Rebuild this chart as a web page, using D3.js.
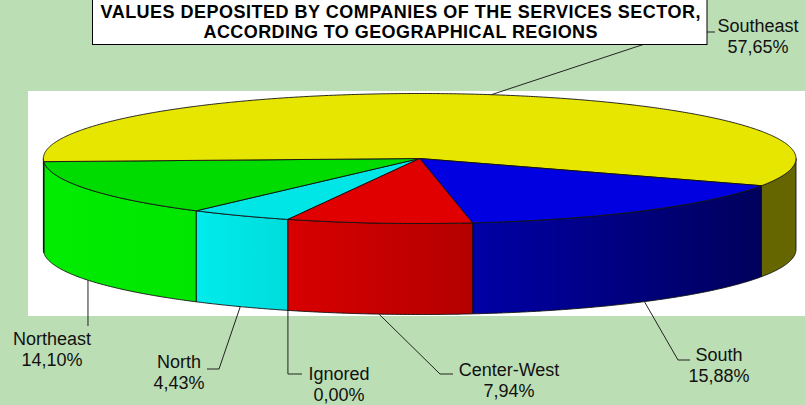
<!DOCTYPE html>
<html>
<head>
<meta charset="utf-8">
<script src="https://cdn.jsdelivr.net/npm/d3@7"></script>
<style>
  html, body { margin: 0; padding: 0; background: #bcdeb4; }
  svg { display: block; }
</style>
</head>
<body>
<svg id="chart" width="805" height="405"></svg>
<script>
// Regions, in the order the slices are laid out clockwise
const regions = ["North", "Northeast", "Southeast", "South", "Center-West", "Ignored"];
// Share of deposited values (%)
const shares = [4.43, 14.10, 57.65, 15.88, 7.94, 0.00];
// Printed value labels (decimal comma)
const shareLabels = ["4,43%", "14,10%", "57,65%", "15,88%", "7,94%", "0,00%"];
const titleLines = [
  "VALUES DEPOSITED BY COMPANIES OF THE SERVICES SECTOR,",
  "ACCORDING TO GEOGRAPHICAL REGIONS"
];

// Slice colours: top face, and left/right shades of the rim
const topColors  = ["#00e6e6", "#00dc00", "#e6e600", "#0000e1", "#e10000", "#e100e1"];
const rimLeft    = ["#00ecec", "#00ec00", "#666600", "#0000a6", "#d80000", "#a000a0"];
const rimRight   = ["#00dcdc", "#00e600", "#666600", "#00005c", "#b40000", "#a000a0"];

const W = 805, H = 405;
const svg = d3.select("#chart");
const defs = svg.append("defs");

// background and white plot area
svg.append("rect").attr("width", W).attr("height", H).attr("fill", "#bcdeb4");
svg.append("rect").attr("x", 28).attr("y", 91).attr("width", W - 28).attr("height", 225).attr("fill", "#ffffff");

// tilted disc geometry
const cx = 419.7, cy = 158.5, rx = 376.3, ry = 65, depth = 91;
const rad = Math.PI / 180;
const startDeg = 110.5; // first slice edge, clockwise from 3 o'clock

const pie = d3.pie().sort(null).value(d => d)
  .startAngle((startDeg + 90) * rad)
  .endAngle((startDeg + 450) * rad);
const arcs = pie(shares);

const toT = a => a - Math.PI / 2;               // d3 angle -> ellipse parameter
const ex = t => cx + rx * Math.cos(t);
const ey = (t, dz = 0) => cy + ry * Math.sin(t) + dz;
function arcPts(t0, t1, dz) {
  const n = Math.max(2, Math.ceil(Math.abs(t1 - t0) / (0.4 * rad)));
  return d3.range(n + 1).map(i => {
    const t = t0 + (t1 - t0) * i / n;
    return [ex(t), ey(t, dz)];
  });
}
const line = d3.line();

// ---- rim (front half only) ----
const rimG = svg.append("g");
arcs.forEach((a, i) => {
  if (a.value <= 0) return;
  const t0 = toT(a.startAngle), t1 = toT(a.endAngle);
  [-2 * Math.PI, 0, 2 * Math.PI, 4 * Math.PI].forEach((base, k) => {
    const lo = Math.max(t0, base), hi = Math.min(t1, base + Math.PI);
    if (hi - lo <= 1e-6) return;
    const id = `rim-${i}-${k}`;
    const g = defs.append("linearGradient").attr("id", id)
      .attr("gradientUnits", "userSpaceOnUse")
      .attr("x1", ex(hi)).attr("y1", 0).attr("x2", ex(lo)).attr("y2", 0);
    g.append("stop").attr("offset", 0).attr("stop-color", rimLeft[i]);
    g.append("stop").attr("offset", 1).attr("stop-color", rimRight[i]);
    const pts = arcPts(lo, hi, 0).concat(arcPts(hi, lo, depth));
    rimG.append("path")
      .attr("d", line(pts) + "Z")
      .attr("fill", `url(#${id})`)
      .attr("stroke", "#111").attr("stroke-width", 0.9)
      .attr("stroke-linejoin", "round");
  });
});

// ---- top faces ----
const topG = svg.append("g");
arcs.forEach((a, i) => {
  if (a.value <= 0) return;
  const pts = [[cx, cy]].concat(arcPts(toT(a.startAngle), toT(a.endAngle), 0));
  topG.append("path")
    .attr("d", line(pts) + "Z")
    .attr("fill", topColors[i])
    .attr("stroke", "#111").attr("stroke-width", 0.9)
    .attr("stroke-linejoin", "round");
});

// ---- data labels with leader lines ----
const labelPlace = {
  "North":       { x: 179, y: 368, route: p => [p, [219, 369], [207, 369]] },
  "Northeast":   { x: 52,  y: 345, route: p => [p, [p[0], 326]] },
  "Southeast":   { x: 758, y: 32,  route: p => [p, [681, 32], [715, 32]] },
  "South":       { x: 719, y: 361, route: p => [p, [678, 360], [690, 360]] },
  "Center-West": { x: 509, y: 376, route: p => [p, [440, 374], [453, 374]] },
  "Ignored":     { x: 339, y: 380, route: p => [p, [p[0], 374], [302, 374]] }
};

const leaderG = svg.append("g");
const labelG = svg.append("g")
  .attr("font-family", "'Liberation Sans', Arial, sans-serif")
  .attr("font-size", 18).attr("fill", "#111").attr("text-anchor", "middle");

arcs.forEach((a, i) => {
  const name = regions[i];
  const place = labelPlace[name];
  const tm = toT((a.startAngle + a.endAngle) / 2);
  const back = Math.sin(tm) < 0;
  const anchor = [ex(tm), ey(tm, back ? 0 : depth)];
  leaderG.append("path")
    .attr("d", line(place.route(anchor)))
    .attr("fill", "none").attr("stroke", "#222").attr("stroke-width", 1);
  const t = labelG.append("text").attr("x", place.x).attr("y", place.y);
  t.append("tspan").attr("x", place.x).text(name);
  t.append("tspan").attr("x", place.x).attr("dy", 21).text(shareLabels[i]);
});

// ---- title box ----
const titleG = svg.append("g");
titleG.append("rect")
  .attr("x", 92.5).attr("y", -1).attr("width", 614.5).attr("height", 45.5)
  .attr("fill", "#ffffff").attr("stroke", "#000").attr("stroke-width", 1);
const titleWidths = [600, 394];
titleLines.forEach((s, i) => {
  titleG.append("text")
    .attr("x", 400.5).attr("y", 18 + i * 20)
    .attr("text-anchor", "middle")
    .attr("font-family", "'Liberation Sans', Arial, sans-serif")
    .attr("font-weight", "bold").attr("font-size", 18)
    .attr("fill", "#000")
    .attr("textLength", titleWidths[i]).attr("lengthAdjust", "spacing")
    .text(s);
});
</script>
</body>
</html>
